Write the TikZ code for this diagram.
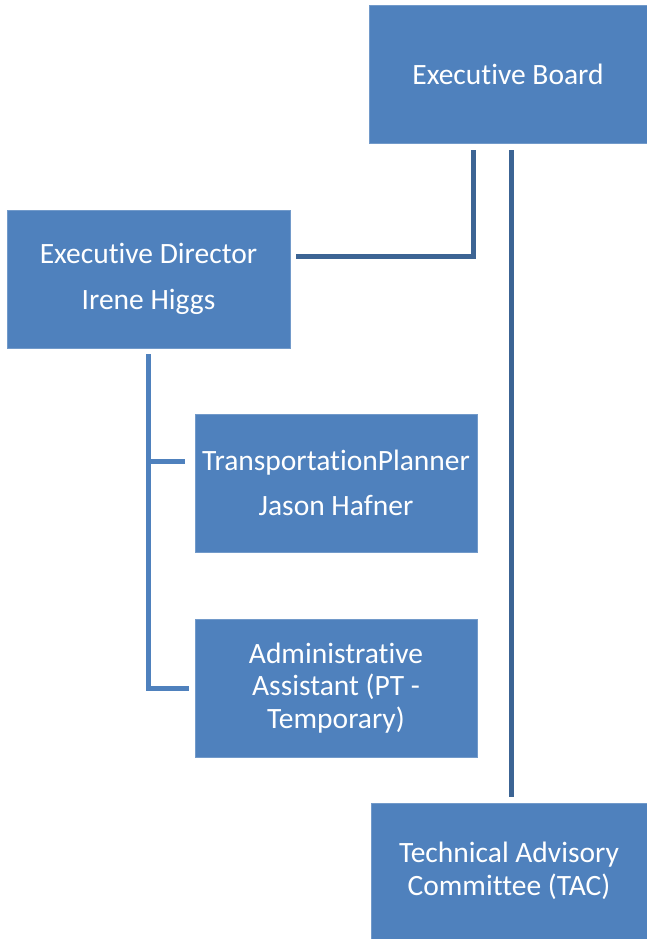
\documentclass[tikz,border=0pt]{standalone}
\usepackage{fontspec}
\setmainfont[Ligatures=NoCommon]{Carlito}
\definecolor{boxblue}{HTML}{4F81BD}
\definecolor{lineblue}{HTML}{3C6494}
\tikzset{
	box/.style={fill=boxblue, draw=boxblue!80!white, line width=0.8pt, text=white, align=center, minimum width=282pt, minimum height=138pt, inner sep=0pt, font=\fontsize{29.5}{32.5}\selectfont},
	conn/.style={draw=lineblue, line width=5pt},
	subconn/.style={draw=boxblue, line width=5pt}
}
\begin{document}
\begin{tikzpicture}[x=1pt,y=-1pt]
		\useasboundingbox (0,0) rectangle (647,939);
		\node (board) [box, minimum width=278pt] at (508,74) {Executive Board};
		\node (director) [box, minimum width=283pt] at (148.5,279) {Executive Director\\[13pt]Irene Higgs};
		\node (planner) [box] at (336,483) {TransportationPlanner\\[12pt]Jason Hafner};
		\node (assistant) [box] at (336,688) {Administrative\\Assistant (PT -\\Temporary)};
		\node (tac) [box, minimum width=276pt, minimum height=136pt] at (509,871) {Technical Advisory\\Committee (TAC)};
		\draw [conn] ([xshift=-35pt,yshift=-7pt]board.south) |- ([xshift=6pt,yshift=23pt]director.east);
		\draw [conn] ([xshift=3pt,yshift=-7pt]board.south) -- ([xshift=2pt,yshift=6pt]tac.north);
		\coordinate (pbranch) at ([xshift=-10pt,yshift=22pt]planner.west);
		\draw [subconn] ([yshift=-6pt]director.south) |- ([xshift=-6pt]assistant.west);
		\draw [subconn] (pbranch) -- (director.south |- pbranch);
	\end{tikzpicture}
\end{document}
